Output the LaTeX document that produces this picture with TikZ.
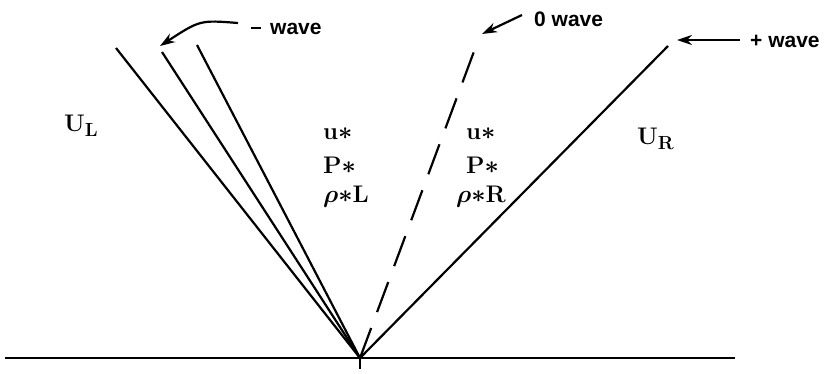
\documentclass[tikz,border=0pt]{standalone}
\usepackage{fontspec}
\newfontfamily\wavefont{Liberation Sans}
\usetikzlibrary{arrows.meta}
\newcommand{\lowsub}[1]{\raisebox{-5pt}{\fontsize{19}{22}\selectfont #1}}
\begin{document}
\begin{tikzpicture}[x=1pt,y=-1pt,
  wline/.style={line width=2.2pt},
  lbl/.style={font=\fontsize{24}{28}\selectfont\bfseries\boldmath, inner sep=0pt, anchor=west},
  wlbl/.style={font=\wavefont\fontsize{21}{24}\selectfont\bfseries, inner sep=0pt, anchor=west},
  pointer/.style={line width=2.2pt, -{Stealth[length=15pt,width=10pt]}}]
\useasboundingbox (0,0) rectangle (832,373);
% ground
\coordinate (gl) at (5,358);
\coordinate (gr) at (735,358);
\coordinate (O) at (360,358);
\coordinate (tick) at (360,369);
\draw[wline] (gl) -- (gr);
\draw[wline] (O) -- (tick);
% rarefaction fan
\coordinate (f1) at (116,48);
\coordinate (f2) at (162,52);
\coordinate (f3) at (197,45);
\draw[wline] (O) -- (f1);
\draw[wline] (O) -- (f2);
\draw[wline] (O) -- (f3);
% contact
\coordinate (c) at (479,38);
\draw[wline, dash pattern=on 32pt off 17pt] (O) -- (c);
% shock
\coordinate (s) at (668,46);
\draw[wline] (O) -- (s);
% labels
\node[wlbl] (mw) at (251,29) {\raisebox{6pt}{\rule{10pt}{1.8pt}}\hspace{9pt}wave};
\node[wlbl] (zw) at (534,19) {0 wave};
\node[wlbl] (pw) at (750,41) {+ wave};
\coordinate (mws) at (238,23);
\coordinate (zws) at (522,15);
\coordinate (pws) at (740,40);
\coordinate (mwa) at (160,46);
\coordinate (zwa) at (482,34);
\coordinate (pwa) at (677,40);
\draw[pointer] (mws) .. controls (200,20) .. (mwa);
\draw[pointer] (zws) -- (zwa);
\draw[pointer] (pws) -- (pwa);
\node[lbl] (ul) at (64,126) {U\lowsub{L}};
\node[lbl] (ur) at (637,139) {U\lowsub{R}};
\node[lbl] (u1) at (323,134) {u$\ast$};
\node[lbl] (p1) at (323,165) {P$\ast$};
\node[lbl] (r1) at (323,197) {$\rho\ast$L};
\node[lbl] (u2) at (466,134) {u$\ast$};
\node[lbl] (p2) at (466,165) {P$\ast$};
\node[lbl] (r2) at (456,197) {$\rho\ast$R};
\end{tikzpicture}
\end{document}
